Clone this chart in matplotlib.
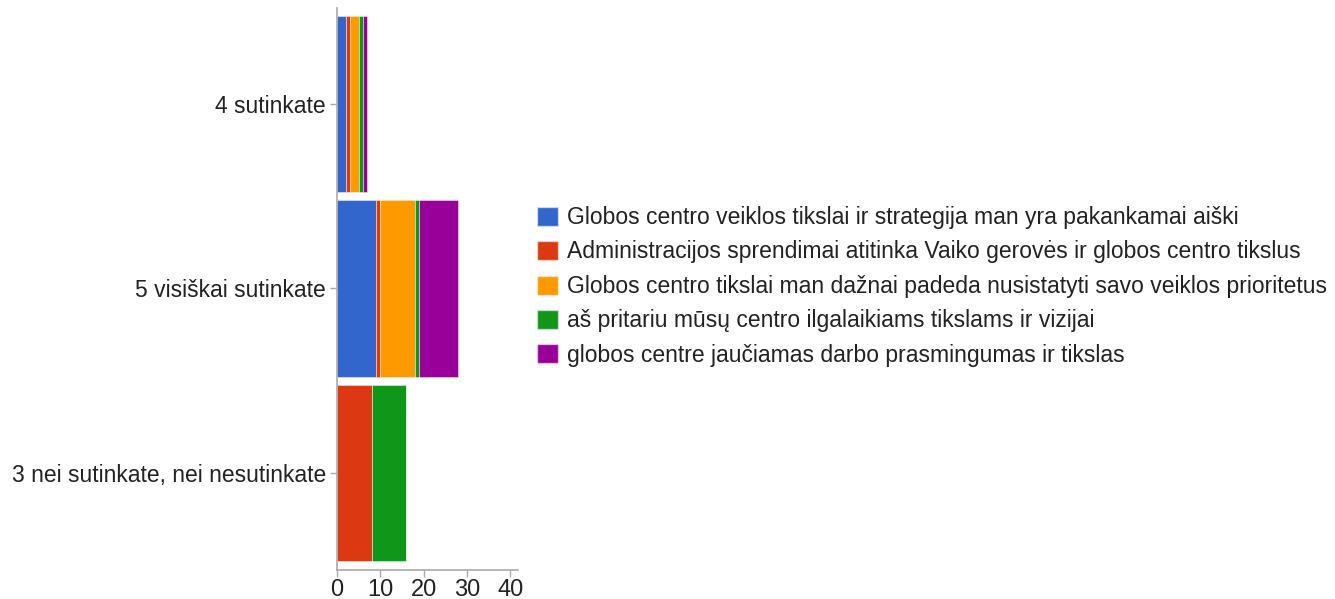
import matplotlib
matplotlib.use("Agg")
import matplotlib.pyplot as plt
from matplotlib.patches import Patch
import numpy as np

categories = ["4 sutinkate", "5 visiškai sutinkate", "3 nei sutinkate, nei nesutinkate"]
series_names = [
    "Globos centro veiklos tikslai ir strategija man yra pakankamai aiški",
    "Administracijos sprendimai atitinka Vaiko gerovės ir globos centro tikslus",
    "Globos centro tikslai man dažnai padeda nusistatyti savo veiklos prioritetus",
    "aš pritariu mūsų centro ilgalaikiams tikslams ir vizijai",
    "globos centre jaučiamas darbo prasmingumas ir tikslas",
]
s_blue = [2, 9, 0]
s_red = [1, 1, 8]
s_orange = [2, 8, 0]
s_green = [1, 1, 8]
s_purple = [1, 9, 0]
series_values = [s_blue, s_red, s_orange, s_green, s_purple]
colors = ["#3366cc", "#dc3912", "#ff9900", "#109618", "#990099"]
xticks = [0, 10, 20, 30, 40]

plt.rcParams['font.family'] = ['Liberation Sans', 'DejaVu Sans']
fig = plt.figure(figsize=(13.35, 5.99), dpi=100)
ax = fig.add_axes([337/1335, 1-570/599, (518-337)/1335, (570-8)/599])

y = np.arange(len(categories))
left = np.zeros(len(categories))
for name, vals, c in zip(series_names, series_values, colors):
    vals = np.array(vals, dtype=float)
    ax.barh(y, vals, left=left, height=0.955, color=c, edgecolor=(1, 1, 1, 0.5), linewidth=0.6, label=name)
    left += vals

ax.set_ylim(2.526, -0.52)
ax.set_xlim(0, 41.8)
ax.set_yticks(y)
ax.set_yticklabels(categories)
ax.set_xticks(xticks)
ax.set_xticklabels([str(t) for t in xticks])
for s in ["top", "right"]:
    ax.spines[s].set_visible(False)
for s in ["left", "bottom"]:
    ax.spines[s].set_color("#aaaaaa")
    ax.spines[s].set_linewidth(1.2)
ax.tick_params(axis="both", colors="#aaaaaa", length=5, width=1, labelsize=16.5, labelcolor="#222222")
ax.tick_params(axis="y", pad=3)
ax.tick_params(axis="x", pad=1.5, labelsize=17)

handles = [Patch(facecolor=c, edgecolor=(1, 1, 1, 0.5), label=n) for n, c in zip(series_names, colors)]
fig.legend(handles=handles, loc="upper left", bbox_to_anchor=(537/1335, 1-206/599), frameon=False,
           fontsize=16.5, handlelength=0.92, handleheight=0.9, handletextpad=0.4,
           labelspacing=0.5, borderaxespad=0, borderpad=0, labelcolor="#222222")

fig.savefig("out.png", dpi=100)
